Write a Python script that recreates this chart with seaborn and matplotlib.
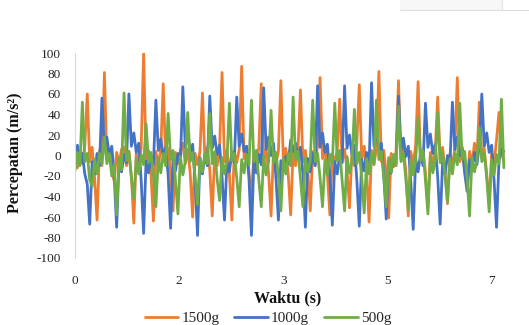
import numpy as np
import pandas as pd
import matplotlib
matplotlib.use("Agg")
import matplotlib.pyplot as plt
from matplotlib.lines import Line2D
import seaborn as sns

# sampling step of the recorded signal (s)
dt = 0.04
beban = ["1500g", "1000g", "500g"]
warna = ["#ED7D31", "#4472C4", "#70AD47"]

a_1500 = [
    0, -12, 5, -8, 10,
    60, -6, 8, -22, -63, 5, -10,
    81, -4, 6, -15, -25, 3, -8, 6,
    8, -10, 4, -20, -66, 2, -9, 7,
    100, -3, 5, -18, -64, 4, -10, 6,
    70, -5, 7, -16, -54, 3, -8, 5,
    12, -8, 6, -17, -60, 2, -9, 4,
    61, -4, 8, -14, -59, 3, -10, 9,
    81, -6, 5, -18, -63, 4, -7, 6,
    87, -3, 9, -15, -40, 2, -11, 8,
    70, -5, 6, -17, -59, 5, -8, 4,
    73, -4, 7, -18, -58, 3, -10, 7,
    64, -6, 5, -15, -54, 4, -9, 10,
    76, -3, 8, -19, -58, 2, -7, 5,
    55, -5, 6, -14, -51, 3, -10, 12,
    69, -4, 9, -16, -65, 5, -8, 6,
    82, -6, 5, -18, -61, 2, -11, 4,
    73, -3, 7, -15, -59, 4, -9, 10,
    72, -5, 6, -17, -52, 3, -8, 5,
    57, -4, 8, -16, -47, 2, -10, 7,
    76, -6, 5, -14, -30, 4, -9, 12, -3,
    52, -3, 7, -18, -47, 2, -8, 15,
    42, 3, -6,
]

a_1000 = [
    3, 10, -8, 2, -18, -28, -67, -6, -18, 2, -10,
    56, 6, 18, 0, 9, -20, -70, -3, -16, 1, -7,
    60, 9, 22, 3, 12, -24, -76, -5, -17, -1, -9,
    54, 5, 16, -1, 8, -19, -71, -4, -15, 2, -8,
    67, 8, 24, 2, 11, -25, -78, -2, -18, 0, -10,
    58, 7, 19, 1, 10, -21, -63, -6, -16, 3, -7,
    57, 9, 21, 4, 9, -23, -78, -4, -17, 1, -9,
    66, 6, 18, 0, 12, -22, -63, -5, -15, -1, -8,
    15, 4, 12, -2, 8, -18, -70, -3, -16, 2, -10,
    68, 8, 22, 3, 11, -20, -68, -6, -18, 0, -7,
    68, 7, 20, 1, 10, -24, -69, -4, -15, 3, -9,
    71, 9, 23, 4, 12, -19, -62, -5, -17, -1, -8,
    58, 5, 17, -1, 9, -25, -72, -3, -16, 2, -10,
    51, 8, 21, 2, 11, -21, -67, -6, -18, 0, -7,
    52, 6, 18, 0, 8, -17, -35, -4, -15, 3, -9, 10,
    60, 9, 22, 3, 10, -24, -70, -5, 6, 4,
]

a_500 = [
    -15, 3, -10, 52, -6, 2, -24, -30, -4, -18, 2, -8,
    18, -8, 2, -20, -8, -58, -2, -14,
    61, -5, 4, -22, -42, -3, -18, 1, -9,
    31, -7, 3, -20, -50, -2, -17, 2, -10,
    41, -4, 5, -24, -57, -1, -19, -6,
    42, -6, 3, -21, -48, -3, -16, 2, -8,
    41, -8, 4, -23, -44, -2, -18, -5,
    51, -5, 2, -22, -50, -4, -17, 1, -9,
    54, -6, 5, -24, -50, -1, -19, -6,
    44, -7, 3, -20, -54, -3, -18, 2, -10,
    57, -4, 4, -23, -50, -2, -16, -5,
    54, -6, 2, -22, -50, -4, -19, 1, -8,
    51, -5, 5, -24, -54, -1, -17, -6,
    45, -8, 3, -21, -56, -3, -18, 2, -9,
    54, -4, 4, -22, -50, -2, -16, 1, -10,
    48, -6, 2, -23, -53, -4, -19, -5,
    37, -5, 5, -24, -57, -1, -17, -6,
    42, -7, 3, -20, -45, -3, -18, 2, -9,
    51, -4, 4, -23, -59, -2, -16, -5,
    27, -6, 2, -22, -55, -4, -19, 1, -8,
    55, -12,
]

xtick_pos = [0, 1.7, 3.4, 5.1, 6.8]
xtick_label = ["0", "2", "3", "5", "7"]
ytick = list(range(-100, 101, 20))

frames = []
for nama, nilai in zip(beban, [a_1500, a_1000, a_500]):
    frames.append(pd.DataFrame({
        "Waktu": np.arange(len(nilai)) * dt,
        "Percepatan": nilai,
        "Beban": nama,
    }))
df = pd.concat(frames, ignore_index=True)

sns.set_style("white")
plt.rcParams["font.family"] = ["Liberation Serif", "DejaVu Serif"]
plt.rcParams["axes.unicode_minus"] = False

W, H = 529, 325
fig = plt.figure(figsize=(W / 100, H / 100), dpi=100)
ax = fig.add_axes([75 / W, 1 - 258 / H, 435 / W, 205 / H])

sns.lineplot(data=df, x="Waktu", y="Percepatan", hue="Beban", hue_order=beban,
             palette=warna, linewidth=2.0, estimator=None, sort=False,
             legend=False, ax=ax)

ax.set_xlim(0, 7.1)
ax.set_ylim(-100, 100)
ax.set_xticks(xtick_pos)
ax.set_xticklabels(xtick_label)
ax.set_yticks(ytick)
ax.tick_params(axis="both", length=0, labelsize=9.5, labelcolor="#222222")
ax.tick_params(axis="x", pad=12)
ax.tick_params(axis="y", pad=10)
ax.set_xlabel("")
ax.set_ylabel("")
for s in ["top", "right", "bottom"]:
    ax.spines[s].set_visible(False)
ax.spines["left"].set_color("#d9d9d9")
ax.spines["left"].set_linewidth(0.8)

fig.text(288 / W, 1 - 298 / H, "Waktu (s)", ha="center", va="center",
         fontsize=11.5, fontweight="bold", color="#111111")
fig.text(15 / W, 1 - 153 / H, "Percepatan (m/s²)", ha="center", va="center",
         rotation=90, fontsize=11.5, fontweight="bold", color="#111111")

handles = [Line2D([0], [0], color=c, lw=2) for c in warna]
fig.legend(handles, beban, loc="center", bbox_to_anchor=(268 / W, 1 - 318 / H),
           ncol=3, frameon=False, fontsize=11, handlelength=2.2,
           handletextpad=0.2, columnspacing=1.0, borderaxespad=0, borderpad=0)

# faint border of the source page at the top right
fig.patches.append(plt.Rectangle((400 / W, 1 - 10 / H), 102 / W, 10 / H,
                                 transform=fig.transFigure, color="#f7f7f7", lw=0))
fig.add_artist(Line2D([400 / W, 1], [1 - 10 / H, 1 - 10 / H],
                      transform=fig.transFigure, color="#dcdcdc", lw=0.8))
fig.add_artist(Line2D([502 / W, 502 / W], [1 - 10 / H, 1],
                      transform=fig.transFigure, color="#e4e4e4", lw=0.8))

fig.savefig("out.png", dpi=100)
